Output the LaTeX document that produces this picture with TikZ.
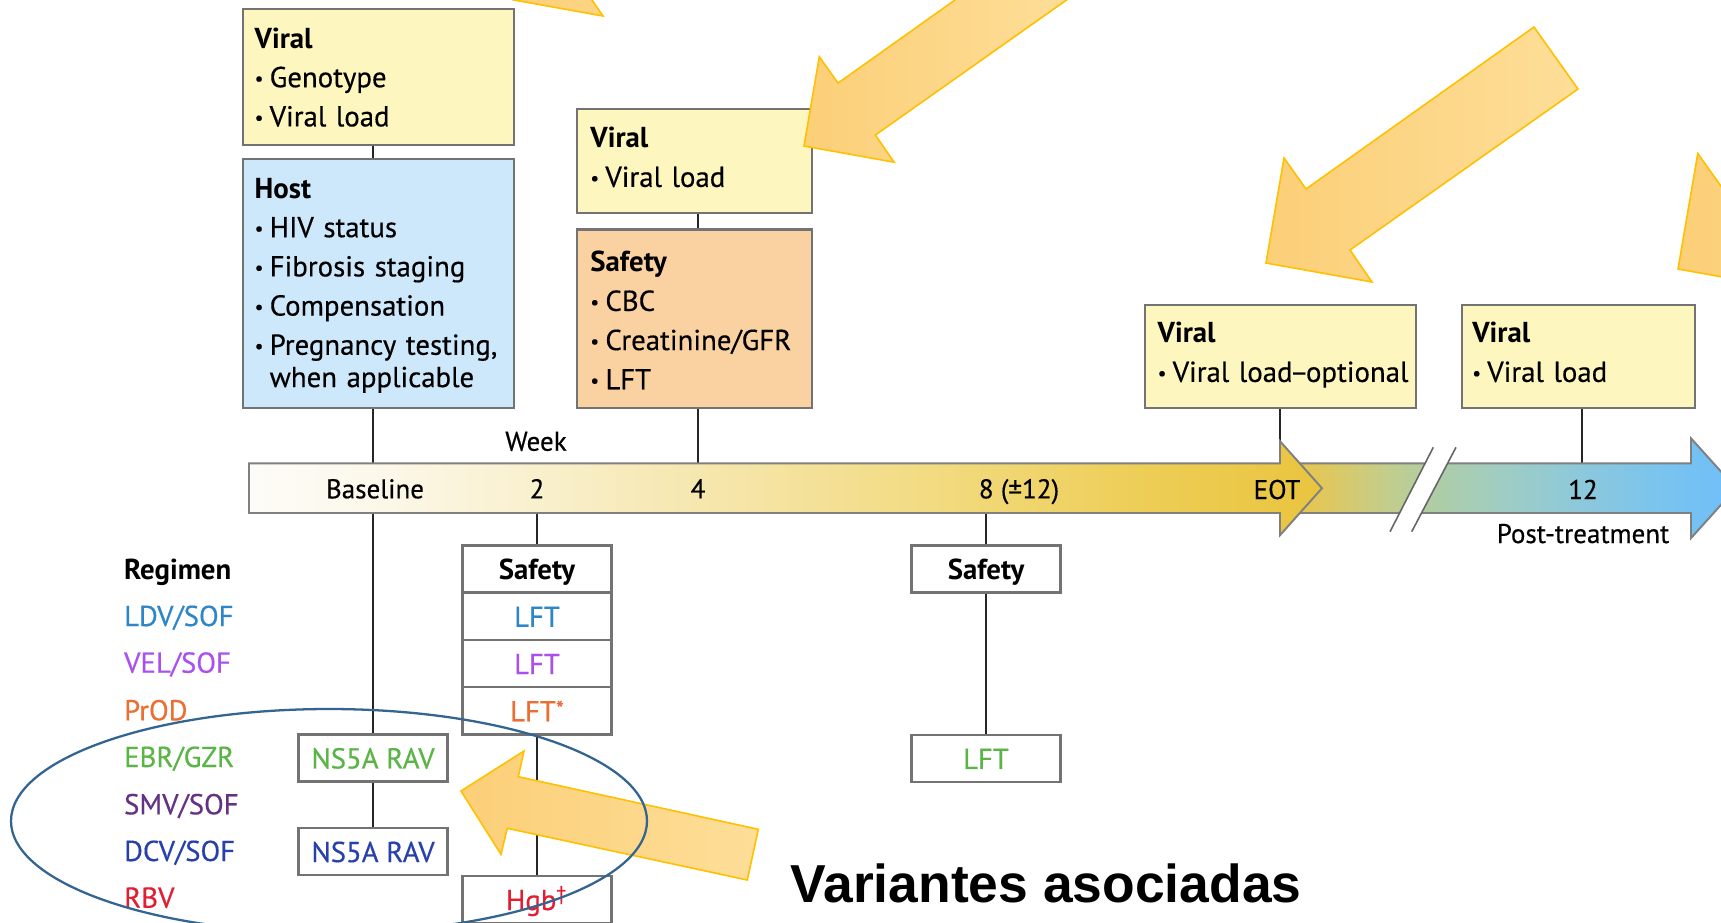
\documentclass[tikz,border=0pt]{standalone}
\usepackage{fontspec}
\setmainfont{PT Sans}[UprightFeatures={FakeBold=0.4}]
\newfontfamily\calloutfont{Liberation Sans}
\usepackage{tikz}

\definecolor{viralfill}{RGB}{253,246,190}
\definecolor{hostfill}{RGB}{205,232,251}
\definecolor{safetyfill}{RGB}{250,209,161}
\definecolor{boxline}{RGB}{115,115,115}
\definecolor{calloutdark}{RGB}{252,207,120}
\definecolor{calloutlight}{RGB}{253,222,152}
\definecolor{calloutline}{RGB}{255,192,0}
\definecolor{ringline}{RGB}{52,101,145}
\definecolor{ldvcol}{RGB}{46,134,200}
\definecolor{velcol}{RGB}{170,80,240}
\definecolor{prodcol}{RGB}{235,110,50}
\definecolor{ebrcol}{RGB}{90,180,70}
\definecolor{smvcol}{RGB}{100,50,130}
\definecolor{dcvcol}{RGB}{40,65,170}
\definecolor{rbvcol}{RGB}{225,30,50}

\pgfdeclarehorizontalshading{weekbar}{100bp}{rgb(0bp)=(0.992,0.988,0.973); rgb(25bp)=(0.992,0.988,0.973); rgb(30.8bp)=(0.988,0.973,0.918); rgb(38.4bp)=(0.976,0.941,0.804); rgb(45.9bp)=(0.965,0.906,0.686); rgb(59.3bp)=(0.945,0.847,0.463); rgb(67bp)=(0.929,0.804,0.333); rgb(75bp)=(0.914,0.769,0.243); rgb(100bp)=(0.914,0.769,0.243)}
\pgfdeclarehorizontalshading{postbar}{100bp}{rgb(0bp)=(0.910,0.776,0.294); rgb(25bp)=(0.910,0.776,0.294); rgb(29.2bp)=(0.871,0.784,0.373); rgb(35.9bp)=(0.765,0.804,0.549); rgb(41.1bp)=(0.686,0.804,0.647); rgb(48.6bp)=(0.627,0.804,0.765); rgb(57.9bp)=(0.549,0.784,0.863); rgb(67.4bp)=(0.471,0.765,0.941); rgb(75bp)=(0.431,0.745,0.973); rgb(100bp)=(0.431,0.745,0.973)}

\newcommand{\itm}{\makebox[1.5mm][l]{\raisebox{0.6pt}{\fontsize{5.5}{6}\selectfont •}}}

\begin{document}
\begin{tikzpicture}[x=0.1mm, y=-0.1mm,
  viralbox/.style={draw=boxline, line width=0.7pt, fill=viralfill, anchor=north west, inner sep=0pt},
  hostbox/.style={viralbox, fill=hostfill},
  safebox/.style={viralbox, fill=safetyfill},
  testbox/.style={draw=boxline, line width=0.7pt, fill=white, minimum width=14.9mm, minimum height=4.72mm, inner sep=0pt, text height=6pt, text depth=0pt, font=\fontsize{8.2}{9.2}\selectfont},
  boxtxt/.style={anchor=base west, inner sep=0pt, text width=40mm, align=left, font=\fontsize{8.2}{9.2}\selectfont},
  wklbl/.style={anchor=base, inner sep=0pt, font=\fontsize{7.7}{9}\selectfont},
  regimen/.style={anchor=base west, inner sep=0pt, font=\fontsize{8.2}{9.2}\selectfont},
  tick/.style={draw=black!85, line width=0.8pt},
  barline/.style={draw=black!50, line width=0.55pt},
  callout/.style={draw=calloutline, line width=0.45pt, left color=calloutdark, right color=calloutlight},
  ring/.style={draw=ringline, line width=0.65pt}]

\useasboundingbox (0,0) rectangle (1721,922);
\clip (0,0) rectangle (1721,922);
\fill[white] (0,0) rectangle (1721,922);

% week positions on the bar
\coordinate (wk0) at (373,488.2);
\coordinate (wk2) at (537,488.2);
\coordinate (wk4) at (698,488.2);
\coordinate (wk8) at (986,488.2);
\coordinate (eot) at (1280,488.2);
\coordinate (wk12) at (1582,488.2);
\coordinate (bartop) at (0,463.3);
\coordinate (barbot) at (0,513);
\coordinate (eottop) at (0,441.2);

% boxes above the bar
\node[viralbox, minimum width=27.15mm, minimum height=13.65mm] (viralA) at (241.5,7.5) {};
\node[hostbox, minimum width=27.15mm, minimum height=24.87mm] (hostA) at (241.5,158) {};
\node[viralbox, minimum width=23.47mm, minimum height=10.37mm] (viralB) at (576,108) {};
\node[safebox, minimum width=23.47mm, minimum height=17.84mm] (safetyA) at (576,228.3) {};
\node[viralbox, minimum width=27.1mm, minimum height=10.27mm] (viralC) at (1144,304) {};
\node[viralbox, minimum width=23.31mm, minimum height=10.27mm] (viralD) at (1460.7,304) {};

\node[boxtxt] (viralAtxt) at (254,48) {\textbf{Viral}\\[1.95pt]\itm Genotype\\[1.95pt]\itm Viral load};
\node[boxtxt] (hostAtxt) at (254,198) {\textbf{Host}\\[1.95pt]\itm HIV status\\[1.95pt]\itm Fibrosis staging\\[1.95pt]\itm Compensation\\[1.95pt]\itm Pregnancy testing,\\\hspace*{1.5mm}when applicable};
\node[boxtxt] (viralBtxt) at (589.7,147.7) {\textbf{Viral}\\[1.95pt]\itm Viral load};
\node[boxtxt] (safetyAtxt) at (589.7,271.7) {\textbf{Safety}\\[1.95pt]\itm CBC\\[1.95pt]\itm Creatinine/GFR\\[1.95pt]\itm LFT};
\node[boxtxt] (viralCtxt) at (1157,342.7) {\textbf{Viral}\\[1.95pt]\itm Viral load\kern-0.8pt--\kern-0.8pt optional};
\node[boxtxt] (viralDtxt) at (1471.6,342.7) {\textbf{Viral}\\[1.95pt]\itm Viral load};

% boxes below the bar
\node[testbox, font=\fontsize{8.2}{9.2}\selectfont\bfseries] (safeB) at (537,569.1) {Safety};
\node[testbox, text=ldvcol] (lftB1) at (537,616.3) {LFT};
\node[testbox, text=velcol] (lftB2) at (537,663.5) {LFT};
\node[testbox, text=prodcol] (lftB3) at (537,710.7) {LFT\raisebox{1.2pt}{\fontsize{6.5}{7}\selectfont*}};
\node[testbox, text=rbvcol] (hgbB) at (537,899.5) {Hgb\textsuperscript{†}};
\node[testbox, text=ebrcol] (nsA) at (373,757.9) {NS5A RAV};
\node[testbox, text=dcvcol] (nsB) at (373,851.5) {NS5A RAV};
\node[testbox, font=\fontsize{8.2}{9.2}\selectfont\bfseries] (safeC) at (986,569.1) {Safety};
\node[testbox, text=ebrcol] (lftC) at (986,758.4) {LFT};

% connectors
\draw[tick] (wk0 |- viralA.south) -- (wk0 |- hostA.north);
\draw[tick] (wk0 |- hostA.south) -- (wk0 |- bartop);
\draw[tick] (wk4 |- viralB.south) -- (wk4 |- safetyA.north);
\draw[tick] (wk4 |- safetyA.south) -- (wk4 |- bartop);
\draw[tick] (eot |- viralC.south) -- (eot |- eottop);
\draw[tick] (wk12 |- viralD.south) -- (wk12 |- bartop);
\draw[tick] (wk0 |- barbot) -- (nsA.north);
\draw[tick] (nsA.south) -- (nsB.north);
\draw[tick] (wk2 |- barbot) -- (safeB.north);
\draw[tick] (lftB3.south) -- (hgbB.north);
\draw[tick] (wk8 |- barbot) -- (safeC.north);
\draw[tick] (safeC.south) -- (lftC.north);

% time bar
\shade[shading=postbar, barline] (1290,463.3) -- (1691,463.3) -- (1691,438.3) -- (1736,488.2) -- (1691,538.1) -- (1691,513) -- (1290,513) -- cycle;
\shade[shading=weekbar, barline] (249,463.3) -- (1280,463.3) -- (1280,441.2) -- (1322,488.2) -- (1280,535.2) -- (1280,513) -- (249,513) -- cycle;
\fill[white] (1390,531.7) -- (1433.3,447.3) -- (1456,447.3) -- (1411.7,531.7) -- cycle;
\draw[black!60, line width=0.45pt] (1390,531.7) -- (1433.3,447.3);
\draw[black!60, line width=0.45pt] (1411.7,531.7) -- (1456,447.3);

\node[wklbl] (week) at (536,450.7) {Week};
\node[wklbl] (lbl0) at (375,498.3) {Baseline};
\node[wklbl] (lbl2) at (537,498.3) {2};
\node[wklbl] (lbl4) at (698,498.3) {4};
\node[wklbl] (lbl8) at (1019,498.3) {8 (±12)};
\node[wklbl] (lbleot) at (1277,499) {EOT};
\node[wklbl] (lbl12) at (1583,499) {12};
\node[wklbl] (post) at (1583,543) {Post-treatment};

% regimens
\node[regimen, font=\fontsize{8.2}{9.2}\selectfont\bfseries] (regA) at (123.4,579.3) {Regimen};
\node[regimen, text=ldvcol] (regB) at (123.4,626) {LDV/SOF};
\node[regimen, text=velcol] (regC) at (123.4,672.7) {VEL/SOF};
\node[regimen, text=prodcol] (regD) at (123.4,720.3) {PrOD};
\node[regimen, text=ebrcol] (regE) at (123.4,767) {EBR/GZR};
\node[regimen, text=smvcol] (regF) at (123.4,814.3) {SMV/SOF};
\node[regimen, text=dcvcol] (regG) at (123.4,861) {DCV/SOF};
\node[regimen, text=rbvcol] (regH) at (123.4,907.7) {RBV};

% callout arrows
\draw[callout] (512.9,-0.2) -- (528.2,-89.5) -- (546.9,-63.1) -- (740.7,-200.8) -- (778.1,-148.1) -- (584.3,-11.2) -- (603,16) -- cycle;
\draw[callout] (804,146) -- (819.3,56.7) -- (838,83.1) -- (1031.8,-54.6) -- (1069.2,-1.9) -- (875.4,135) -- (894.1,162.2) -- cycle;
\draw[callout] (1266,263) -- (1284,158) -- (1306,189) -- (1534,27) -- (1578,89) -- (1350,250) -- (1372,282) -- cycle;
\draw[callout] (1678,269) -- (1697.8,153.5) -- (1722,187.6) -- (1972.8,9.4) -- (2021.2,77.6) -- (1770.4,254.7) -- (1794.6,289.9) -- cycle;
\draw[callout] (461,791) -- (524,751) -- (518.3,776.7) -- (758.3,829.3) -- (747.3,880) -- (507.3,828.3) -- (501,854.3) -- cycle;

\draw[ring] (329,821) ellipse [x radius=31.8mm, y radius=11.2mm];

\node[anchor=base west, inner sep=0pt, font=\calloutfont\fontsize{15.2}{18}\selectfont\bfseries] (variants) at (790,902.7) {Variantes asociadas};

\end{tikzpicture}
\end{document}
